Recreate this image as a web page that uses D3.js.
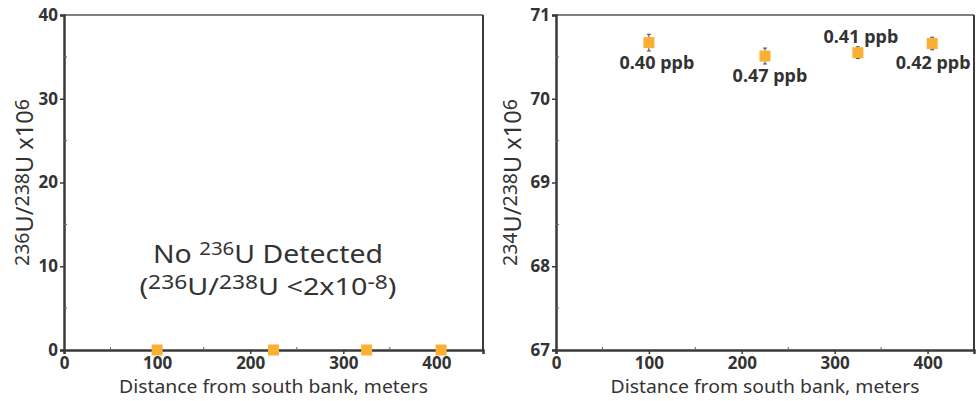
<!DOCTYPE html>
<html>
<head>
<meta charset="utf-8">
<script src="https://cdn.jsdelivr.net/npm/d3@7"></script>
<style>
  body { margin: 0; background: #fff; }
  svg text { font-family: "Noto Sans", "Open Sans", sans-serif; fill: #333; }
</style>
</head>
<body>
<svg id="chart" width="976" height="401"></svg>
<script>
// Sample distances (m)
const distances = [100, 225, 325, 405];

// Left panel: 236U/238U x10^6 (none detected, plotted at 0)
const u236 = [0, 0, 0, 0];

// Right panel: 234U/238U x10^6 and errors
const u234 = [70.67, 70.51, 70.55, 70.66];
const u234Err = [0.1, 0.095, 0.07, 0.075];
const ppbLabels = ['0.40 ppb', '0.47 ppb', '0.41 ppb', '0.42 ppb'];
const labelAbove = [false, false, true, false];

const xTicks = [0, 100, 200, 300, 400];
const xMinor = [50, 150, 250, 350];
const leftYTicks = [0, 10, 20, 30, 40];
const leftYMinor = [5, 15, 25, 35];
const rightYTicks = [67, 68, 69, 70, 71];
const rightYMinor = [67.5, 68.5, 69.5, 70.5];

// label nudges (px) so the last one stays inside the frame
const labelDx = [8, 5, 3, 1];

const svg = d3.select('#chart');
const plotTop = 15, plotBottom = 350;
const markerColor = '#FBB034';
const axisColor = '#3a3a3a';

// writes base text + raised smaller parts; parts = [[text, isSup], ...]
function richText(sel, parts, supSize, rise) {
  parts.forEach(([t, sup], i) => {
    const prevSup = i > 0 && parts[i - 1][1];
    const span = sel.append('tspan').text(t);
    if (sup) span.attr('font-size', supSize).attr('dy', prevSup ? 0 : -rise);
    else if (prevSup) span.attr('dy', rise);
  });
}

function panel(opts) {
  const x = d3.scaleLinear().domain([0, 450]).range([opts.left, opts.right]);
  const y = d3.scaleLinear().domain(opts.yDomain).range([plotBottom, plotTop]);
  const g = svg.append('g');

  // frame: top lighter, right dark
  g.append('line').attr('x1', opts.left).attr('x2', opts.right).attr('y1', plotTop).attr('y2', plotTop)
    .attr('stroke', '#555').attr('stroke-width', 1.5);
  g.append('line').attr('x1', opts.right).attr('x2', opts.right).attr('y1', plotTop).attr('y2', plotBottom)
    .attr('stroke', axisColor).attr('stroke-width', 2);

  // x axis
  const xAxis = g.append('g').attr('transform', `translate(0,${plotBottom})`)
    .call(d3.axisBottom(x).tickValues(xTicks).tickSize(4).tickPadding(3).tickFormat(d3.format('d')));
  xAxis.select('.domain').attr('stroke', axisColor).attr('stroke-width', 2.5);
  xAxis.selectAll('.tick line').attr('stroke', axisColor).attr('stroke-width', 1.5);
  xAxis.selectAll('text').attr('font-size', 17).attr('font-weight', 700).attr('fill', '#333')
    .attr('font-family', '"Noto Sans", sans-serif');
  g.append('g').selectAll('line').data(xMinor).join('line')
    .attr('x1', d => x(d)).attr('x2', d => x(d)).attr('y1', plotBottom).attr('y2', plotBottom - 3)
    .attr('stroke', '#666').attr('stroke-width', 1);

  // y axis
  const yAxis = g.append('g').attr('transform', `translate(${opts.left},0)`)
    .call(d3.axisLeft(y).tickValues(opts.yTicks).tickSize(4).tickPadding(2).tickFormat(d3.format('d')));
  yAxis.select('.domain').attr('stroke', axisColor).attr('stroke-width', 2.5);
  yAxis.selectAll('.tick line').attr('stroke', axisColor).attr('stroke-width', 1.5);
  yAxis.selectAll('text').attr('font-size', 17).attr('font-weight', 700).attr('fill', '#333')
    .attr('font-family', '"Noto Sans", sans-serif');
  g.append('g').selectAll('line').data(opts.yMinor).join('line')
    .attr('x1', opts.left).attr('x2', opts.left + 3).attr('y1', d => y(d)).attr('y2', d => y(d))
    .attr('stroke', '#666').attr('stroke-width', 1);

  // x title
  g.append('text').attr('x', x(225)).attr('y', 393).attr('text-anchor', 'middle')
    .attr('font-size', 18).attr('textLength', 309).attr('lengthAdjust', 'spacingAndGlyphs')
    .text('Distance from south bank, meters');

  // y title
  const yt = g.append('text')
    .attr('transform', `translate(${opts.titleX},${(plotTop + plotBottom) / 2}) rotate(-90)`)
    .attr('text-anchor', 'middle').attr('font-size', 23)
    .attr('textLength', 167).attr('lengthAdjust', 'spacingAndGlyphs');
  richText(yt, [[opts.iso, true], ['U/', false], ['238', true], ['U x10', false], ['6', true]], 19, 4);

  return { g, x, y };
}

// Left panel
const L = panel({ left: 64, right: 483, yDomain: [0, 40], yTicks: leftYTicks, yMinor: leftYMinor,
  titleX: 33, iso: '236' });
L.g.append('g').selectAll('rect').data(distances).join('rect')
  .attr('x', (d) => L.x(d) - 5.5).attr('y', (d, i) => L.y(u236[i]) - 5.5)
  .attr('width', 11).attr('height', 11).attr('fill', markerColor);

const note1 = L.g.append('text').attr('x', 268).attr('y', 263).attr('text-anchor', 'middle')
  .attr('font-size', 25).attr('textLength', 230).attr('lengthAdjust', 'spacingAndGlyphs');
richText(note1, [['No ', false], ['236', true], ['U Detected', false]], 18, 8);
const note2 = L.g.append('text').attr('x', 268).attr('y', 295).attr('text-anchor', 'middle')
  .attr('font-size', 24).attr('textLength', 257).attr('lengthAdjust', 'spacingAndGlyphs');
richText(note2, [['(', false], ['236', true], ['U/', false], ['238', true], ['U <2x10', false], ['-8', true], [')', false]], 19, 6);

// Right panel
const R = panel({ left: 556, right: 974, yDomain: [67, 71], yTicks: rightYTicks, yMinor: rightYMinor,
  titleX: 521, iso: '234' });
const pts = R.g.append('g').selectAll('g').data(distances).join('g');
const errLine = (sel, y1, y2, half) => sel.append('line')
  .attr('x1', d => R.x(d) - half).attr('x2', d => R.x(d) + half)
  .attr('y1', y1).attr('y2', y2)
  .attr('stroke', '#444').attr('stroke-width', 1);
errLine(pts, (d, i) => R.y(u234[i] + u234Err[i]), (d, i) => R.y(u234[i] - u234Err[i]), 0);
errLine(pts, (d, i) => R.y(u234[i] + u234Err[i]), (d, i) => R.y(u234[i] + u234Err[i]), 2);
errLine(pts, (d, i) => R.y(u234[i] - u234Err[i]), (d, i) => R.y(u234[i] - u234Err[i]), 2);
pts.append('rect')
  .attr('x', d => R.x(d) - 5.5).attr('y', (d, i) => R.y(u234[i]) - 5.5)
  .attr('width', 11).attr('height', 11).attr('fill', markerColor);
pts.append('text')
  .attr('x', (d, i) => R.x(d) + labelDx[i])
  .attr('y', (d, i) => labelAbove[i] ? R.y(u234[i]) - 10 : R.y(u234[i]) + 26)
  .attr('text-anchor', 'middle').attr('font-size', 18).attr('font-weight', 700)
  .text((d, i) => ppbLabels[i]);
</script>
</body>
</html>
